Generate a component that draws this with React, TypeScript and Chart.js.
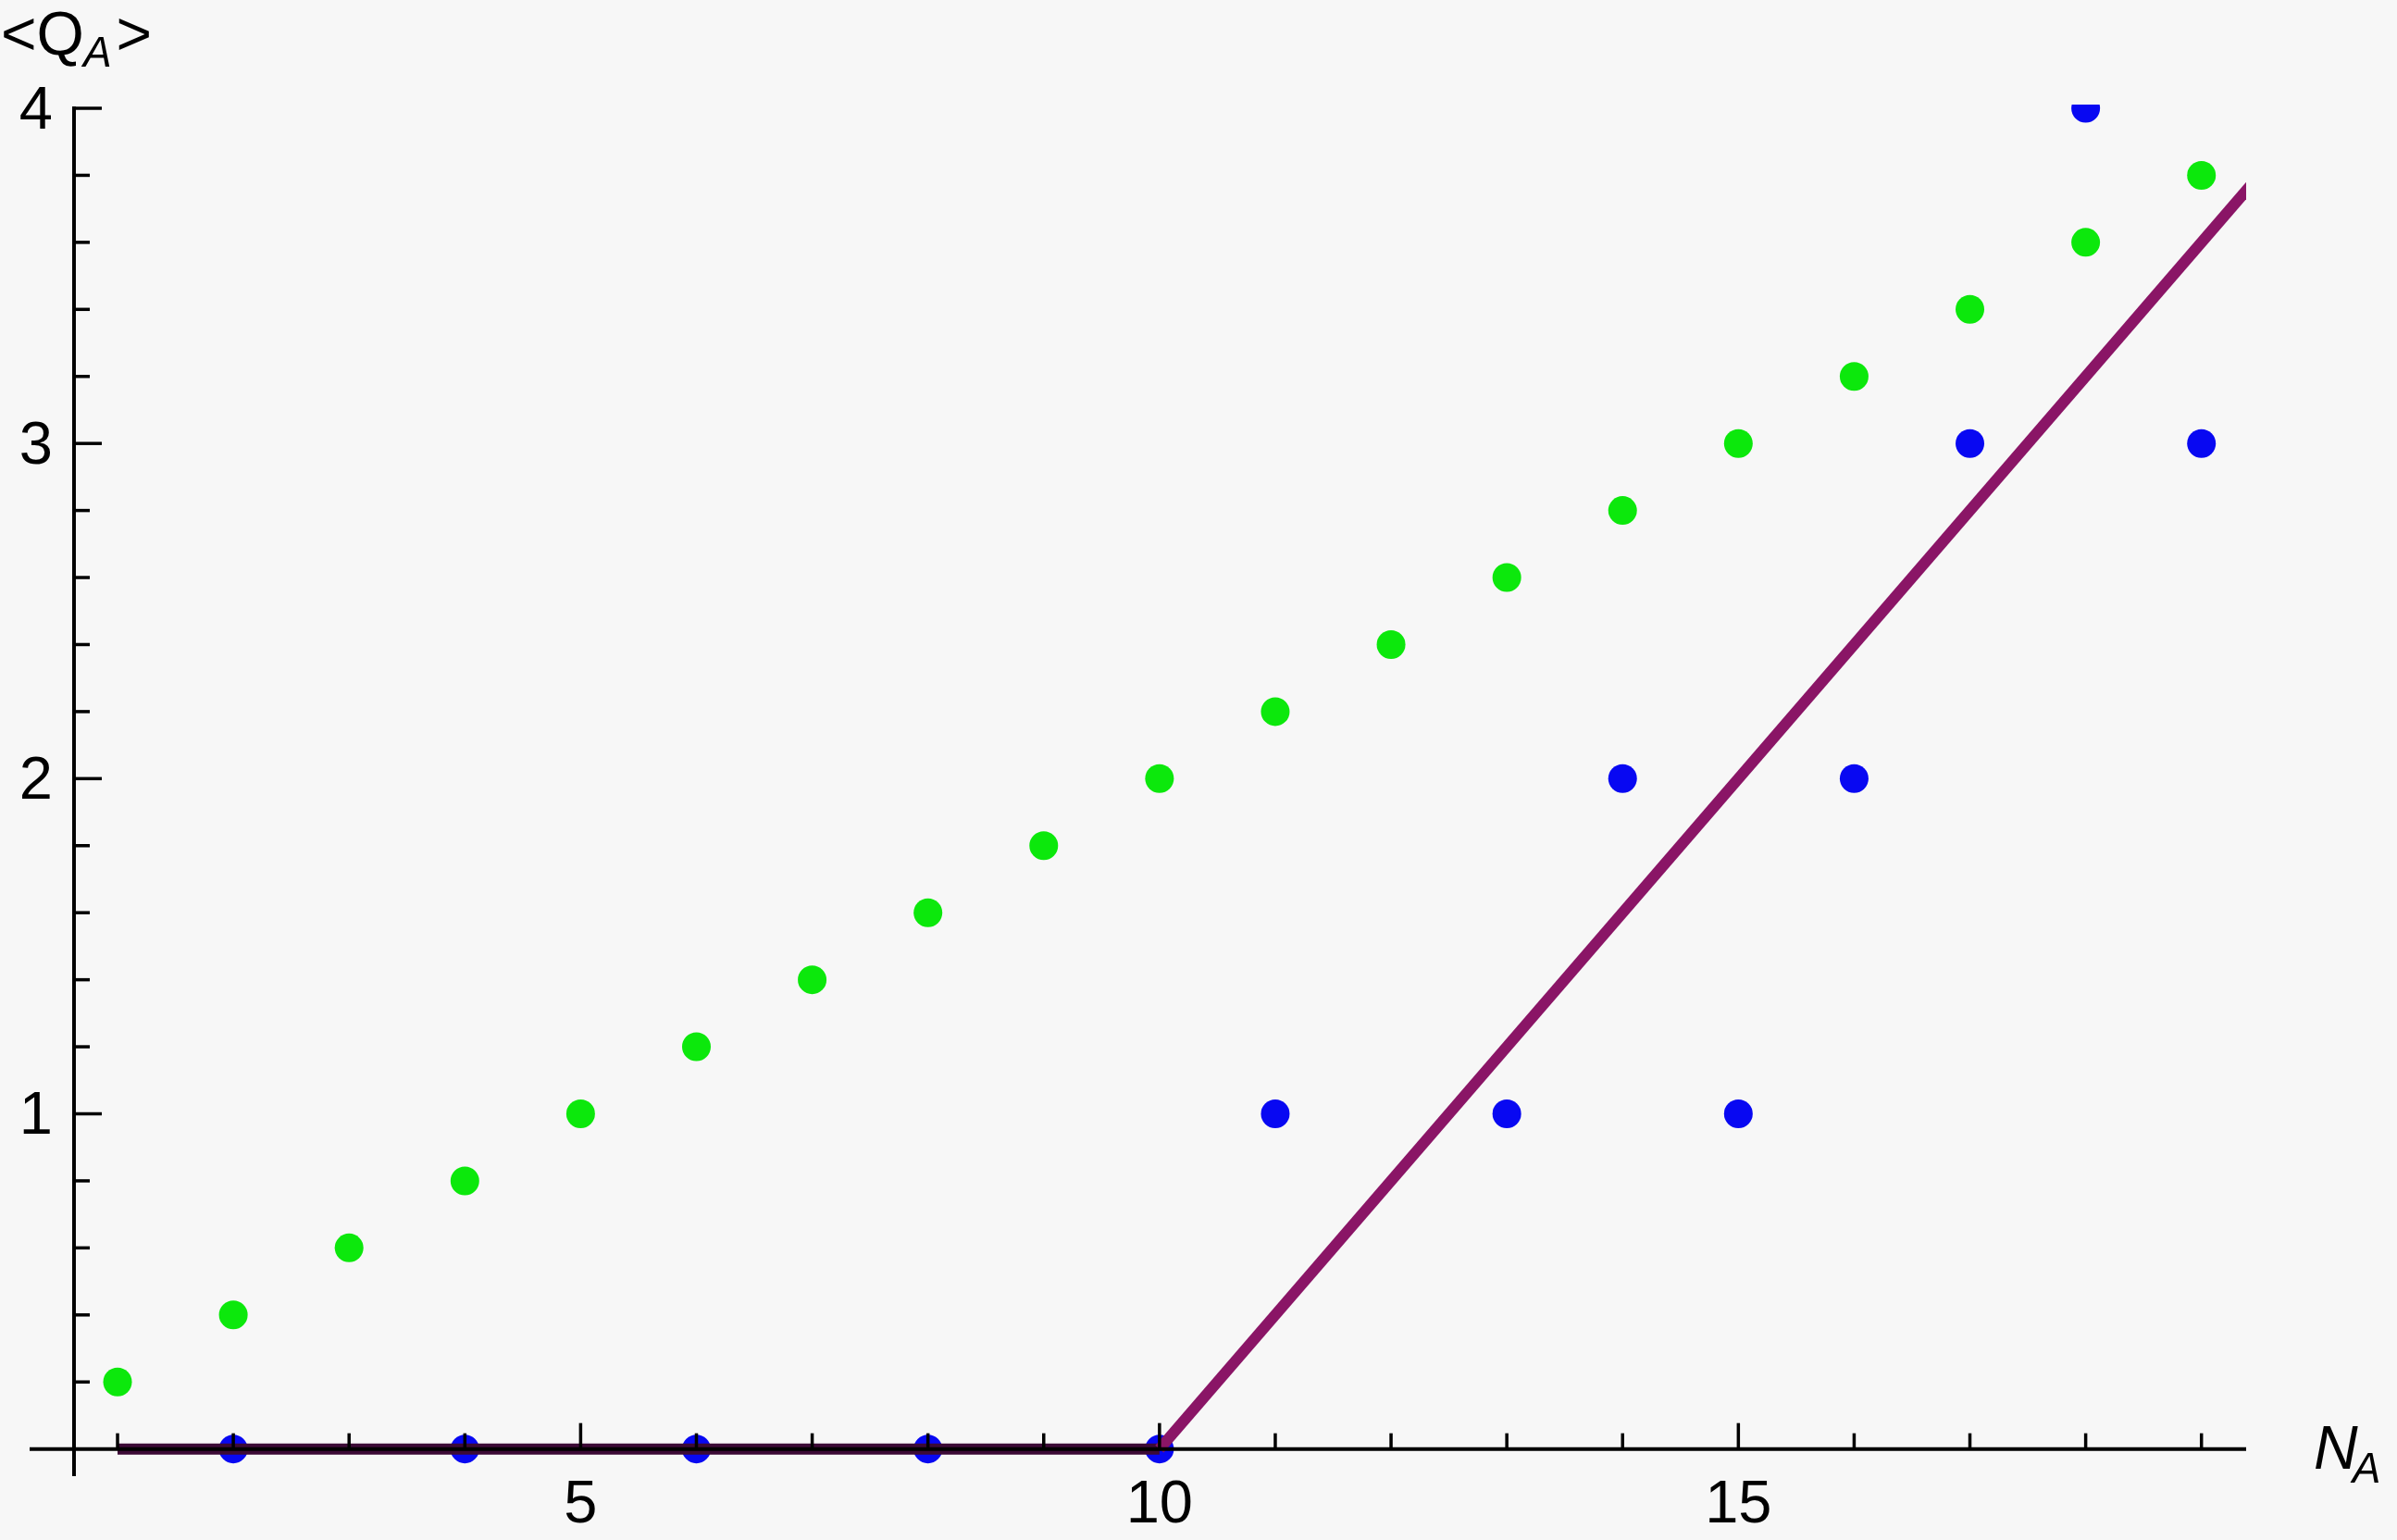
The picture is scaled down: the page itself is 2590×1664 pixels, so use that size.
import React, { useEffect, useRef } from "react";
import { Chart, registerables } from "chart.js";

Chart.register(...registerables);

const nValues = [1, 2, 3, 4, 5, 6, 7, 8, 9, 10, 11, 12, 13, 14, 15, 16, 17, 18, 19];
const greenValues = [0.2, 0.4, 0.6, 0.8, 1.0, 1.2, 1.4, 1.6, 1.8, 2.0, 2.2, 2.4, 2.6, 2.8, 3.0, 3.2, 3.4, 3.6, 3.8];
const blueN = [2, 4, 6, 8, 10, 11, 13, 14, 15, 16, 17, 18, 19];
const blueValues = [0, 0, 0, 0, 0, 1, 1, 2, 1, 2, 3, 4, 3];
const lineN = [1, 10, 20];
const lineValues = [0, 0, 4];
const xTickLabels = [5, 10, 15];
const yTickLabels = [1, 2, 3, 4];

const X_MIN = 0.2405;
const X_MAX = 19.386;
const Y_MIN = -0.081;
const Y_MAX = 4;
const Y_AXIS_AT = 0.624;

const axesPlugin = {
  id: "mmaAxes",
  beforeDraw(chart: any) {
    const ctx = chart.ctx;
    ctx.save();
    ctx.fillStyle = "#f7f7f7";
    ctx.fillRect(0, 0, chart.width, chart.height);
    ctx.restore();
  },
  afterDatasetsDraw(chart: any) {
    const ctx = chart.ctx;
    const xs = chart.scales.x;
    const ys = chart.scales.y;
    const area = chart.chartArea;
    const y0 = ys.getPixelForValue(0);
    const xAx = xs.getPixelForValue(Y_AXIS_AT);
    ctx.save();
    ctx.strokeStyle = "#000";
    ctx.lineWidth = 4;
    ctx.lineCap = "butt";
    ctx.beginPath();
    ctx.moveTo(area.left, y0);
    ctx.lineTo(area.right, y0);
    ctx.stroke();
    ctx.beginPath();
    ctx.moveTo(xAx, area.top - 2);
    ctx.lineTo(xAx, area.bottom);
    ctx.stroke();
    ctx.lineWidth = 3.5;
    for (let v = 1; v <= 19; v++) {
      const px = xs.getPixelForValue(v);
      const len = v % 5 === 0 ? 28 : 17;
      ctx.beginPath();
      ctx.moveTo(px, y0);
      ctx.lineTo(px, y0 - len);
      ctx.stroke();
    }
    for (let i = 1; i <= 20; i++) {
      const v = i * 0.2;
      const py = ys.getPixelForValue(v);
      const len = i % 5 === 0 ? 30 : 17;
      ctx.beginPath();
      ctx.moveTo(xAx, py);
      ctx.lineTo(xAx + len, py);
      ctx.stroke();
    }
    ctx.fillStyle = "#000";
    ctx.font = "65px 'Liberation Sans', Arial, sans-serif";
    ctx.textAlign = "center";
    ctx.textBaseline = "alphabetic";
    xTickLabels.forEach((v) => {
      ctx.fillText(String(v), xs.getPixelForValue(v), 1645);
    });
    ctx.textAlign = "right";
    yTickLabels.forEach((v) => {
      ctx.fillText(String(v), 57, ys.getPixelForValue(v) + 22);
    });
    ctx.textAlign = "left";
    ctx.font = "66px 'Liberation Sans', Arial, sans-serif";
    let x = 1;
    ctx.fillText("<Q", x, 59);
    x += ctx.measureText("<Q").width;
    ctx.font = "italic 46px 'Liberation Sans', Arial, sans-serif";
    ctx.fillText("A", x - 1, 72);
    x += ctx.measureText("A").width + 4;
    ctx.font = "66px 'Liberation Sans', Arial, sans-serif";
    ctx.fillText(">", x, 59);
    ctx.font = "italic 66px 'Liberation Sans', Arial, sans-serif";
    ctx.fillText("N", 2500, 1587);
    const nw = ctx.measureText("N").width;
    ctx.font = "italic 46px 'Liberation Sans', Arial, sans-serif";
    ctx.fillText("A", 2500 + nw - 6, 1602);
    ctx.restore();
  },
};

export default function App() {
  const ref = useRef<HTMLCanvasElement | null>(null);
  useEffect(() => {
    if (!ref.current) return;
    const chart = new Chart(ref.current, {
      type: "scatter",
      data: {
        datasets: [
          {
            label: "green",
            data: nValues.map((n, i) => ({ x: n, y: greenValues[i] })),
            backgroundColor: "#0ce80c",
            borderWidth: 0,
            pointRadius: 15.5,
            order: 3,
            clip: 4,
          },
          {
            label: "blue",
            data: blueN.map((n, i) => ({ x: n, y: blueValues[i] })),
            backgroundColor: "#0808f2",
            borderWidth: 0,
            pointRadius: 15.5,
            order: 2,
            clip: 4,
          },
          {
            label: "line",
            data: lineN.map((n, i) => ({ x: n, y: lineValues[i] })),
            showLine: true,
            borderColor: "#8a1566",
            borderWidth: 12,
            pointRadius: 0,
            order: 1,
            clip: 0,
            segment: {
              borderColor: (c: any) =>
                c.p0.parsed.y === 0 && c.p1.parsed.y === 0 ? "#3c0a36" : "#8a1566",
            },
          } as any,
        ],
      },
      options: {
        responsive: false,
        animation: false,
        devicePixelRatio: 1,
        layout: { padding: { left: 32, right: 163, top: 117, bottom: 69 } },
        plugins: { legend: { display: false }, tooltip: { enabled: false } },
        scales: {
          x: { type: "linear", min: X_MIN, max: X_MAX, display: false },
          y: { type: "linear", min: Y_MIN, max: Y_MAX, display: false },
        },
      },
      plugins: [axesPlugin],
    });
    return () => chart.destroy();
  }, []);
  return (
    <div style={{ position: "fixed", left: 0, top: 0, width: 2590, height: 1664, background: "#f7f7f7" }}>
      <canvas ref={ref} width={2590} height={1664} style={{ display: "block" }} />
    </div>
  );
}
